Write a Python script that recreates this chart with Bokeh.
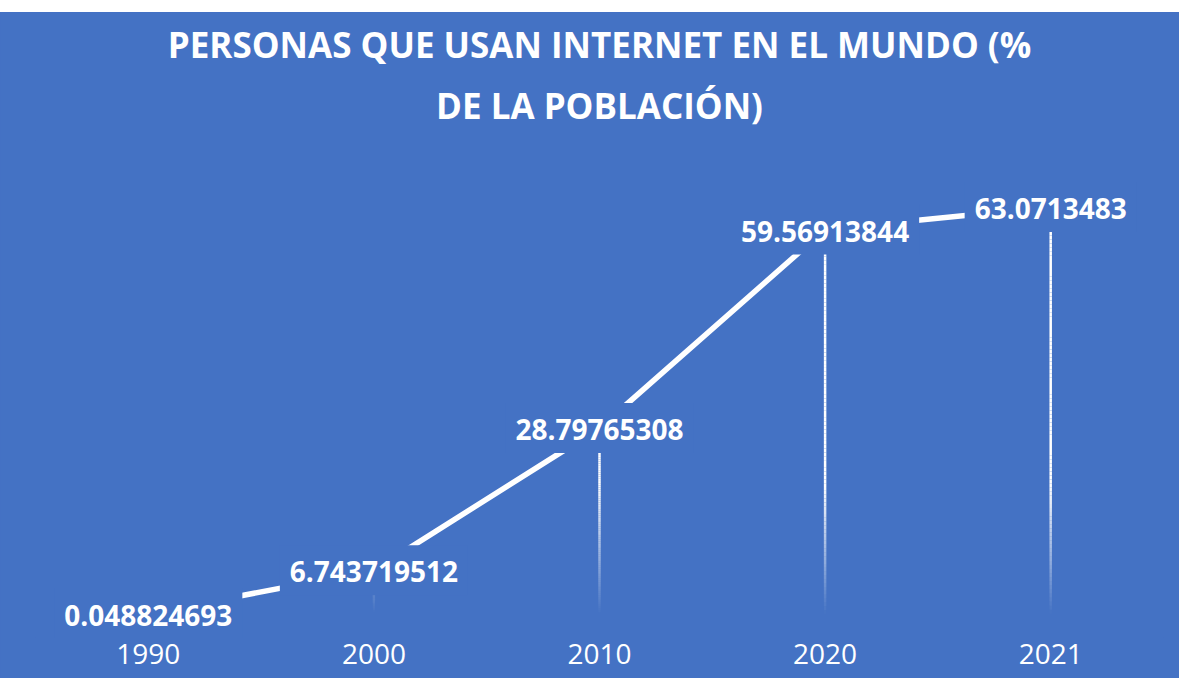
from bokeh.plotting import figure
from bokeh.models import Range1d, FactorRange, Title, ColumnDataSource, Spacer
from bokeh.layouts import column
from bokeh.core.properties import value
from bokeh.embed import file_html
from bokeh.resources import INLINE

# ---- data ----
years = ["1990", "2000", "2010", "2020", "2021"]
pct = [0.048824693, 6.743719512, 28.79765308, 59.56913844, 63.0713483]
title_lines = ["PERSONAS QUE USAN INTERNET EN EL MUNDO (%", "DE LA POBLACIÓN)"]

BLUE = "#4472C4"
labels = [f"{v:.10g}" for v in pct]

p = figure(width=1179, height=666,
           x_range=FactorRange(*years, range_padding=0),
           y_range=Range1d(-3.67, 73.38),
           output_backend="svg", toolbar_location=None, title=None,
           min_border_left=35, min_border_right=16,
           min_border_top=128, min_border_bottom=41,
           background_fill_color=BLUE, border_fill_color=BLUE,
           styles={"background-color": BLUE})
p.outline_line_color = None

# titles (later added = farther from the plot)
for txt, so in zip(reversed(title_lines), [24, 0]):
    p.add_layout(Title(text=txt, align="center", text_color="white",
                       text_font="Open Sans", text_font_style="bold",
                       text_font_size="35px", standoff=so), "above")

# drop lines with a fading gradient
N = 100
seg = dict(x=[], y0=[], y1=[], a=[])
for yr, v in zip(years, pct):
    for i in range(N):
        lo = v * i / N
        hi = v * (i + 1) / N
        seg["x"].append(yr)
        seg["y0"].append(lo)
        seg["y1"].append(hi)
        seg["a"].append(min(1.0, (lo + hi) / 2 / 20.0))
p.segment(x0="x", y0="y0", x1="x", y1="y1", source=ColumnDataSource(seg),
          line_color="white", line_alpha="a", line_width=2.5, line_cap="butt")

src = ColumnDataSource(dict(x=years, y=pct, label=labels))
p.line(x="x", y="y", source=src, line_color="white", line_width=5.5,
       line_join="round")

p.text(x="x", y="y", text="label", source=src,
       text_font=value("Open Sans"), text_font_style="bold",
       text_font_size="28px", text_color="white",
       text_align="center", text_baseline="middle",
       background_fill_color=BLUE,
       padding=dict(left=10, right=10, top=16, bottom=13))

p.yaxis.visible = False
p.grid.visible = False
ax = p.xaxis[0]
ax.axis_line_color = None
ax.major_tick_line_color = None
ax.minor_tick_line_color = None
ax.major_label_text_color = "white"
ax.major_label_text_font = "Open Sans"
ax.major_label_text_font_size = "28px"
ax.major_label_standoff = 0

layout = column(Spacer(width=1179, height=12), p, spacing=0)

open("out.html", "w").write(file_html(layout, INLINE))
